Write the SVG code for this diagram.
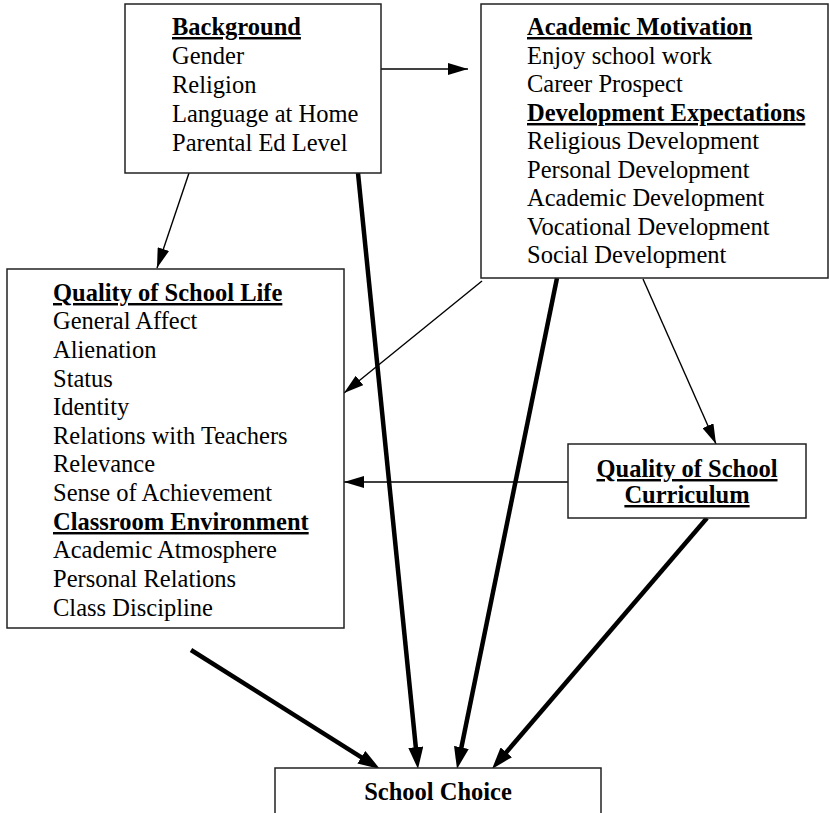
<svg xmlns="http://www.w3.org/2000/svg" width="829" height="813" viewBox="0 0 829 813">
<style>
.box{fill:#fff;stroke:#222;stroke-width:1.5}
text{font-size:24.5px;fill:#000}
.h{font-weight:bold;text-decoration:underline}
.b{font-weight:bold}
.thin{stroke:#000;stroke-width:1.4;fill:none}
.thick{stroke:#000;stroke-width:4.5;fill:none}
</style>
<defs>
<marker id="ah" viewBox="0 0 20 12" refX="20" refY="6" markerWidth="20" markerHeight="12" orient="auto" markerUnits="userSpaceOnUse"><path d="M0,0 L20,6 L0,12 z" fill="#000"/></marker>
<marker id="ahT" viewBox="0 0 22 15" refX="10" refY="7.5" markerWidth="22" markerHeight="15" orient="auto" markerUnits="userSpaceOnUse"><path d="M0,0 L22,7.5 L0,15 z" fill="#000"/></marker>
</defs>
<rect width="829" height="813" fill="#fff"/>
<g id="connectors">
<line class="thin" x1="381" y1="69" x2="468" y2="69" marker-end="url(#ah)"/>
<line class="thin" x1="189" y1="173" x2="157" y2="268" marker-end="url(#ah)"/>
<line class="thin" x1="482" y1="281" x2="344" y2="393" marker-end="url(#ah)"/>
<line class="thin" x1="643" y1="279" x2="716" y2="444" marker-end="url(#ah)"/>
<line class="thin" x1="568" y1="482" x2="344" y2="482" marker-end="url(#ah)"/>
<line class="thick" x1="191" y1="650" x2="369.8" y2="762.6" marker-end="url(#ahT)"/>
<line class="thick" x1="358" y1="173" x2="416.8" y2="757.1" marker-end="url(#ahT)"/>
<line class="thick" x1="557" y1="278" x2="459.4" y2="757.2" marker-end="url(#ahT)"/>
<line class="thick" x1="707" y1="518" x2="499.8" y2="759.9" marker-end="url(#ahT)"/>
</g>
<g font-family="'Liberation Serif', 'DejaVu Serif', serif">
<g id="background">
<rect class="box" x="125" y="4" width="256" height="169"/>
<text class="h" x="172" y="35">Background</text>
<text x="172" y="64">Gender</text>
<text x="172" y="93">Religion</text>
<text x="172" y="122">Language at Home</text>
<text x="172" y="151">Parental Ed Level</text>
</g>
<g id="academic-motivation">
<rect class="box" x="481" y="4" width="347" height="274"/>
<text class="h" x="527" y="35">Academic Motivation</text>
<text x="527" y="64">Enjoy school work</text>
<text x="527" y="92">Career Prospect</text>
<text class="h" x="527" y="121">Development Expectations</text>
<text x="527" y="149">Religious Development</text>
<text x="527" y="178">Personal Development</text>
<text x="527" y="206">Academic Development</text>
<text x="527" y="235">Vocational Development</text>
<text x="527" y="263">Social Development</text>
</g>
<g id="quality-school-life">
<rect class="box" x="7" y="269" width="337" height="359"/>
<text class="h" x="53" y="301">Quality of School Life</text>
<text x="53" y="329">General Affect</text>
<text x="53" y="358">Alienation</text>
<text x="53" y="387">Status</text>
<text x="53" y="415">Identity</text>
<text x="53" y="444">Relations with Teachers</text>
<text x="53" y="472">Relevance</text>
<text x="53" y="501">Sense of Achievement</text>
<text class="h" x="53" y="530">Classroom Environment</text>
<text x="53" y="558">Academic Atmosphere</text>
<text x="53" y="587">Personal Relations</text>
<text x="53" y="616">Class Discipline</text>
</g>
<g id="curriculum">
<rect class="box" x="568" y="444" width="238" height="74"/>
<text class="h" x="687" y="477" text-anchor="middle">Quality of School</text>
<text class="h" x="687" y="503" text-anchor="middle">Curriculum</text>
</g>
<g id="school-choice">
<rect class="box" x="275" y="768" width="326" height="60"/>
<text class="b" x="438" y="800" text-anchor="middle">School Choice</text>
</g>
</g>
</svg>
